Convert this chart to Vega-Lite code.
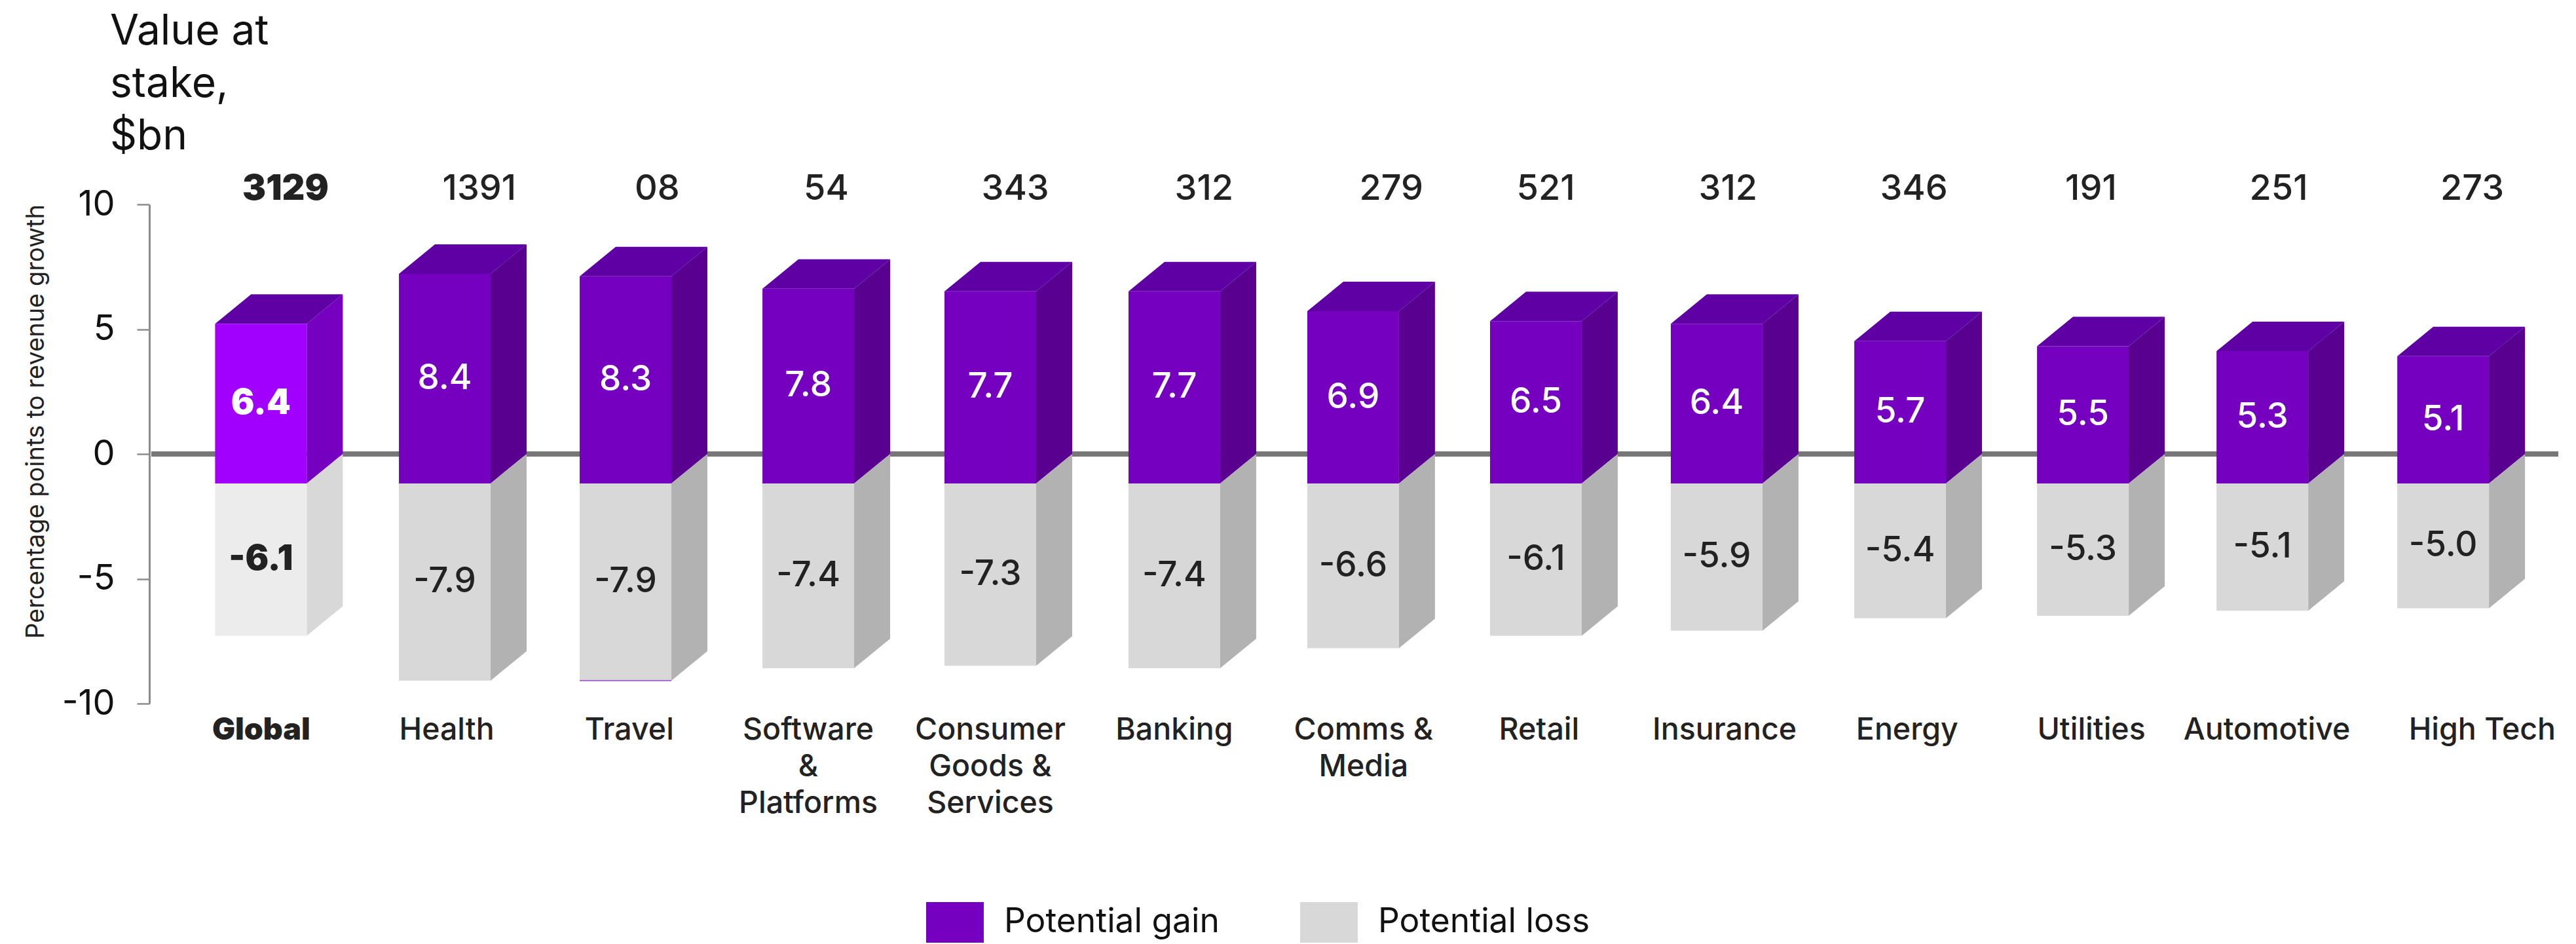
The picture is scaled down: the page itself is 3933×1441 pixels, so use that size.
{
"$schema":"https://vega.github.io/schema/vega-lite/v6.json",
"description":"Potential revenue gain and loss by sector, drawn as extruded columns",
"autosize":"none",
"padding":{"left":228,"top":312,"right":27,"bottom":367},
"width":3678,
"height":762,
"background":"white",
"config":{"view":{"stroke":null},"font":"Inter","locale":{"number":{"decimal":".","thousands":",","grouping":[3],"currency":["$",""],"minus":"-"}}},
"title":{"text":["Value at","stake,","$bn"],"anchor":"start","frame":"group","align":"left","baseline":"alphabetic","dx":-60,"dy":34,"fontSize":64,"fontWeight":400,"lineHeight":80,"color":"#111111","font":"Inter"},
"resolve":{"axis":{"y":"independent"}},
"datasets":{
"bars":[
{"sector":"Global","series":"Potential gain","value":6.4,"slot":0.815},
{"sector":"Global","series":"Potential loss","value":-6.1,"slot":0.815},
{"sector":"Health","series":"Potential gain","value":8.4,"slot":1.830},
{"sector":"Health","series":"Potential loss","value":-7.9,"slot":1.830},
{"sector":"Travel","series":"Potential gain","value":8.3,"slot":2.828},
{"sector":"Travel","series":"Potential loss","value":-7.9,"slot":2.828},
{"sector":"Software & Platforms","series":"Potential gain","value":7.8,"slot":3.837},
{"sector":"Software & Platforms","series":"Potential loss","value":-7.4,"slot":3.837},
{"sector":"Consumer Goods & Services","series":"Potential gain","value":7.7,"slot":4.842},
{"sector":"Consumer Goods & Services","series":"Potential loss","value":-7.3,"slot":4.842},
{"sector":"Banking","series":"Potential gain","value":7.7,"slot":5.858},
{"sector":"Banking","series":"Potential loss","value":-7.4,"slot":5.858},
{"sector":"Comms & Media","series":"Potential gain","value":6.9,"slot":6.845},
{"sector":"Comms & Media","series":"Potential loss","value":-6.6,"slot":6.845},
{"sector":"Retail","series":"Potential gain","value":6.5,"slot":7.854},
{"sector":"Retail","series":"Potential loss","value":-6.1,"slot":7.854},
{"sector":"Insurance","series":"Potential gain","value":6.4,"slot":8.852},
{"sector":"Insurance","series":"Potential loss","value":-5.9,"slot":8.852},
{"sector":"Energy","series":"Potential gain","value":5.7,"slot":9.865},
{"sector":"Energy","series":"Potential loss","value":-5.4,"slot":9.865},
{"sector":"Utilities","series":"Potential gain","value":5.5,"slot":10.874},
{"sector":"Utilities","series":"Potential loss","value":-5.3,"slot":10.874},
{"sector":"Automotive","series":"Potential gain","value":5.3,"slot":11.865},
{"sector":"Automotive","series":"Potential loss","value":-5.1,"slot":11.865},
{"sector":"High Tech","series":"Potential gain","value":5.1,"slot":12.863},
{"sector":"High Tech","series":"Potential loss","value":-5.0,"slot":12.863}
],
"stakes":[
{"sector":"Global","stake":"3129","slot":0.752},
{"sector":"Health","stake":"1391","slot":1.822},
{"sector":"Travel","stake":"08","slot":2.804},
{"sector":"Software & Platforms","stake":"54","slot":3.737},
{"sector":"Consumer Goods & Services","stake":"343","slot":4.781},
{"sector":"Banking","stake":"312","slot":5.823},
{"sector":"Comms & Media","stake":"279","slot":6.857},
{"sector":"Retail","stake":"521","slot":7.710},
{"sector":"Insurance","stake":"312","slot":8.716},
{"sector":"Energy","stake":"346","slot":9.742},
{"sector":"Utilities","stake":"191","slot":10.720},
{"sector":"Automotive","stake":"251","slot":11.756},
{"sector":"High Tech","stake":"273","slot":12.825}
],
"names":[
{"sector":"Global","name":"Global","slot":0.618},
{"sector":"Health","name":"Health","slot":1.642},
{"sector":"Travel","name":"Travel","slot":2.650},
{"sector":"Software & Platforms","name":"Software\n&\nPlatforms","slot":3.638},
{"sector":"Consumer Goods & Services","name":"Consumer\nGoods &\nServices","slot":4.643},
{"sector":"Banking","name":"Banking","slot":5.659},
{"sector":"Comms & Media","name":"Comms &\nMedia","slot":6.704},
{"sector":"Retail","name":"Retail","slot":7.673},
{"sector":"Insurance","name":"Insurance","slot":8.697},
{"sector":"Energy","name":"Energy","slot":9.705},
{"sector":"Utilities","name":"Utilities","slot":10.722},
{"sector":"Automotive","name":"Automotive","slot":11.691},
{"sector":"High Tech","name":"High Tech","slot":12.880}
]
},
"layer":[
{
"data":{"name":"bars"},
"mark":{"type":"rule","color":"#777777","strokeWidth":8},
"encoding":{
"x":{"datum":0.012,"type":"quantitative","scale":{"domain":[0,13.3],"padding":0,"nice":false},"axis":null},
"x2":{"datum":13.3},
"y":{"datum":0,"type":"quantitative","scale":{"domain":[-10,10],"nice":false},
"axis":{"values":[-10,-5,0,5,10],"grid":false,"domain":true,"domainColor":"#8c8c8c","domainWidth":3,"tickColor":"#8c8c8c","tickWidth":2.5,"tickSize":19,"labelFontSize":54,"labelFont":"Inter","labelFontWeight":400,"labelColor":"#111111","labelPadding":34,"title":"Percentage points to revenue growth","titleFont":"Inter","titleFontSize":38,"titleFontWeight":400,"titleColor":"#222222","titleBaseline":"middle","titleX":-173,"titleY":331}}
}
},
{
"data":{"name":"bars"},
"transform":[
{"calculate":"['back','front']","as":"edge"},
{"flatten":["edge"]},
{"calculate":"datum.slot+(datum.edge==='front'?0.054:0.253)","as":"sideX"},
{"calculate":"datum.value-(datum.edge==='front'?1.181:0)","as":"sideY"},
{"calculate":"datum.edge==='front'?-1.181:0","as":"sideBase"}
],
"mark":{"type":"area","opacity":1},
"encoding":{
"x":{"field":"sideX","type":"quantitative","scale":{"domain":[0,13.3],"padding":0,"nice":false},"axis":null},
"y":{"field":"sideY","type":"quantitative","scale":{"domain":[-10,10],"nice":false},"axis":null,"stack":null},
"y2":{"field":"sideBase"},
"detail":[{"field":"sector"},{"field":"series"}],
"color":{"condition":[
{"test":"datum.sector==='Global'&&datum.series==='Potential gain'","value":"#7500C0"},
{"test":"datum.sector==='Global'","value":"#D8D8D8"},
{"test":"datum.series==='Potential gain'","value":"#5A0090"}
],"value":"#B2B2B2"}
}
},
{
"data":{"name":"bars"},
"transform":[{"filter":"datum.series==='Potential gain'"}],
"mark":{"type":"point","filled":true,"opacity":1,"strokeWidth":0,"size":10000,"color":"#5F00A5","shape":"M-1.40,0L1.40,0L0.30,0.90L-2.50,0.90Z"},
"encoding":{
"x":{"field":"slot","type":"quantitative","scale":{"domain":[0,13.3],"padding":0,"nice":false},"axis":null},
"y":{"field":"value","type":"quantitative","scale":{"domain":[-10,10],"nice":false},"axis":null}
}
},
{
"data":{"name":"bars"},
"mark":{"type":"bar","width":140,"xOffset":-55,"yOffset":45,"y2Offset":45},
"encoding":{
"x":{"field":"slot","type":"quantitative","scale":{"domain":[0,13.3],"padding":0,"nice":false},"axis":null},
"y":{"field":"value","type":"quantitative","scale":{"domain":[-10,10],"nice":false},"axis":null,"stack":null},
"y2":{"datum":0},
"color":{
"condition":[
{"test":"datum.sector==='Global'&&datum.series==='Potential gain'","value":"#A100FF"},
{"test":"datum.sector==='Global'","value":"#ECECEC"}
],
"field":"series","type":"nominal",
"scale":{"domain":["Potential gain","Potential loss"],"range":["#7500C0","#D8D8D8"]},
"legend":{"title":null,"orient":"none","direction":"horizontal","legendX":1180,"legendY":1046,"symbolType":"M-0.88,-0.62L0.88,-0.62L0.88,0.62L-0.88,0.62Z","symbolSize":10000,"symbolStrokeWidth":0,"labelFont":"Inter","labelFontSize":51.5,"labelFontWeight":400,"labelColor":"#111111","labelOffset":25,"columnPadding":117,"labelLimit":600}
}
}
},
{
"data":{"name":"bars"},
"transform":[{"filter":"datum.sector==='Travel'&&datum.series==='Potential loss'"}],
"mark":{"type":"tick","orient":"horizontal","size":140,"thickness":1.5,"color":"#7500C0","xOffset":-55,"yOffset":45},
"encoding":{
"x":{"field":"slot","type":"quantitative","scale":{"domain":[0,13.3],"padding":0,"nice":false},"axis":null},
"y":{"field":"value","type":"quantitative","scale":{"domain":[-10,10],"nice":false},"axis":null}
}
},
{
"data":{"name":"bars"},
"transform":[{"calculate":"datum.value/2","as":"middle"}],
"mark":{"type":"text","font":"Inter","fontSize":53,"fontWeight":{"expr":"datum.sector==='Global'?900:500"},"xOffset":-55,"yOffset":45,"baseline":"middle"},
"encoding":{
"x":{"field":"slot","type":"quantitative","scale":{"domain":[0,13.3],"padding":0,"nice":false},"axis":null},
"y":{"field":"middle","type":"quantitative","scale":{"domain":[-10,10],"nice":false},"axis":null},
"text":{"field":"value","type":"quantitative","format":".1f"},
"color":{"condition":{"test":"datum.series==='Potential gain'","value":"#ffffff"},"value":"#222222"}
}
},
{
"data":{"name":"stakes"},
"mark":{"type":"text","font":"Inter","fontSize":54,"fontWeight":{"expr":"datum.sector==='Global'?900:500"},"color":"#222222","baseline":"middle"},
"encoding":{
"x":{"field":"slot","type":"quantitative","scale":{"domain":[0,13.3],"padding":0,"nice":false},"axis":null},
"y":{"datum":10.6,"type":"quantitative","scale":{"domain":[-10,10],"nice":false},"axis":null},
"text":{"field":"stake"}
}
},
{
"data":{"name":"names"},
"mark":{"type":"text","font":"Inter","fontSize":46.5,"fontWeight":{"expr":"datum.sector==='Global'?900:500"},"color":"#222222","baseline":"top","lineBreak":"\n","lineHeight":56},
"encoding":{
"x":{"field":"slot","type":"quantitative","scale":{"domain":[0,13.3],"padding":0,"nice":false},"axis":null},
"y":{"datum":-10.47,"type":"quantitative","scale":{"domain":[-10,10],"nice":false},"axis":null},
"text":{"field":"name"}
}
}
]
}
